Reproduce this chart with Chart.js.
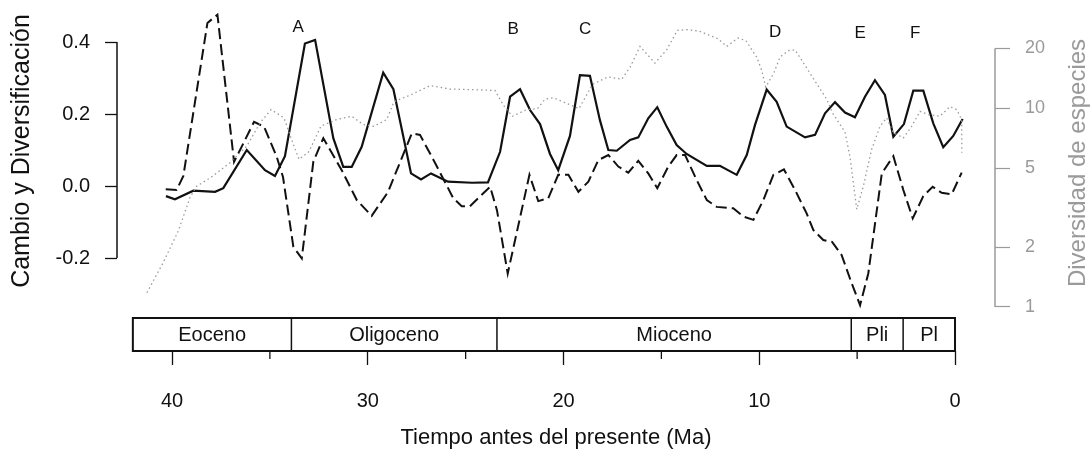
<!DOCTYPE html>
<html>
<head>
<meta charset="utf-8">
<script src="https://cdn.jsdelivr.net/npm/chart.js@4.4.1/dist/chart.umd.min.js"></script>
<style>
  html, body { margin: 0; padding: 0; background: #fff; }
  #wrap { width: 1090px; height: 456px; }
</style>
</head>
<body>
<div id="wrap"><canvas id="chart" width="1090" height="456"></canvas></div>
<script>
// tiempo (Ma) y valores de cada serie
const solidT = [40.31, 39.85, 38.91, 37.80, 37.38, 36.18, 35.25, 34.74, 34.23, 33.21, 32.69, 31.76, 31.25, 30.82, 30.31, 29.21, 28.69, 27.79, 27.28, 26.77, 25.90, 24.67, 23.86, 23.24, 22.73, 22.22, 21.71, 21.20, 20.69, 20.27, 19.67, 19.16, 18.65, 18.14, 17.71, 17.28, 16.60, 16.18, 15.67, 15.21, 14.73, 14.22, 13.71, 12.68, 12.01, 11.15, 10.64, 10.22, 9.62, 9.11, 8.60, 7.66, 7.15, 6.64, 6.13, 5.62, 5.11, 4.60, 4.09, 3.58, 3.15, 2.61, 2.13, 1.62, 1.11, 0.60, 0.09, -0.39];
const solidV = [-0.028, -0.037, -0.013, -0.016, -0.006, 0.100, 0.044, 0.028, 0.083, 0.396, 0.406, 0.133, 0.053, 0.053, 0.109, 0.315, 0.269, 0.035, 0.018, 0.035, 0.012, 0.009, 0.010, 0.095, 0.248, 0.269, 0.211, 0.172, 0.089, 0.044, 0.139, 0.308, 0.306, 0.183, 0.100, 0.098, 0.128, 0.135, 0.188, 0.219, 0.165, 0.114, 0.089, 0.056, 0.056, 0.031, 0.086, 0.169, 0.268, 0.234, 0.165, 0.135, 0.142, 0.202, 0.233, 0.204, 0.191, 0.248, 0.294, 0.253, 0.137, 0.172, 0.265, 0.265, 0.174, 0.108, 0.139, 0.186];

const dashT = [40.32, 39.76, 39.42, 38.19, 37.68, 36.83, 35.81, 35.30, 34.65, 34.33, 33.80, 33.37, 32.78, 32.27, 31.33, 30.56, 29.80, 28.97, 27.75, 27.33, 26.56, 25.63, 25.20, 24.78, 23.75, 23.40, 22.85, 21.74, 21.29, 20.78, 20.27, 19.75, 19.24, 18.73, 18.22, 17.71, 17.20, 16.69, 16.18, 15.67, 15.21, 14.65, 14.22, 13.79, 13.20, 12.68, 12.17, 11.33, 10.81, 10.30, 9.79, 9.28, 8.74, 8.17, 7.58, 7.24, 6.73, 6.28, 5.79, 5.28, 4.85, 4.43, 3.74, 3.15, 2.64, 2.16, 1.62, 1.14, 0.68, 0.17, -0.34];
const dashV = [-0.009, -0.011, 0.028, 0.453, 0.476, 0.067, 0.178, 0.165, 0.081, 0.025, -0.169, -0.201, 0.068, 0.133, 0.044, -0.039, -0.083, -0.017, 0.146, 0.142, 0.064, -0.034, -0.056, -0.056, -0.002, -0.067, -0.243, 0.031, -0.042, -0.034, 0.031, 0.031, -0.016, 0.012, 0.072, 0.086, 0.054, 0.037, 0.070, 0.035, -0.006, 0.054, 0.086, 0.086, 0.017, -0.039, -0.058, -0.062, -0.085, -0.094, -0.039, 0.031, 0.046, -0.011, -0.076, -0.122, -0.150, -0.155, -0.192, -0.270, -0.331, -0.243, 0.035, 0.083, -0.011, -0.090, -0.028, -0.002, -0.019, -0.023, 0.037];

// diversidad de especies (eje derecho, logaritmico)
const dotT = [41.28, 40.44, 39.68, 39.08, 38.74, 38.01, 37.04, 36.18, 35.50, 34.94, 34.28, 33.89, 33.51, 33.00, 32.39, 31.59, 30.82, 30.23, 29.68, 29.03, 28.66, 27.79, 26.82, 25.80, 24.52, 23.50, 23.08, 22.61, 21.88, 21.33, 20.95, 20.52, 19.84, 19.21, 18.52, 17.73, 17.03, 16.60, 16.09, 15.75, 15.33, 14.73, 14.18, 13.71, 13.08, 12.11, 11.66, 11.09, 10.68, 10.13, 9.87, 9.67, 9.25, 8.94, 8.53, 8.17, 7.15, 6.55, 6.26, 5.62, 5.36, 5.02, 4.68, 4.26, 3.83, 3.49, 3.15, 2.64, 2.21, 1.79, 1.36, 0.77, 0.26, -0.09, -0.34, -0.35];
const dotV = [1.18, 1.68, 2.41, 3.56, 4.05, 4.49, 5.32, 6.45, 8.45, 9.85, 8.95, 6.96, 5.53, 6.06, 8.14, 8.78, 9.12, 8.28, 8.12, 8.78, 10.8, 11.7, 13.0, 12.5, 12.4, 12.3, 10.4, 9.12, 9.85, 9.96, 11.1, 11.3, 10.6, 9.96, 13.2, 14.4, 14.0, 16.1, 20.5, 18.8, 16.9, 19.7, 24.7, 24.9, 24.5, 22.4, 20.5, 22.6, 21.9, 18.1, 15.5, 12.8, 15.1, 18.1, 19.5, 19.7, 13.7, 11.1, 9.48, 7.59, 5.66, 3.10, 4.06, 6.21, 8.12, 8.95, 7.53, 7.10, 8.12, 9.66, 9.30, 9.12, 10.2, 9.85, 8.78, 5.97];

const epochNames = ['Eoceno', 'Oligoceno', 'Mioceno', 'Pli', 'Pl'];
const epochBounds = [42, 33.9, 23.4, 5.3, 2.65, 0];

const eventLabels = ['A', 'B', 'C', 'D', 'E', 'F'];
const eventT = [33.55, 22.57, 18.9, 9.19, 4.85, 2.04];
const eventY = [0.442, 0.435, 0.435, 0.428, 0.424, 0.424];

const leftTicks = [-0.2, 0, 0.2, 0.4];
const rightTicks = [1, 2, 5, 10, 20];
const majorTicks = [0, 10, 20, 30, 40];
const minorTicks = [5, 15, 25, 35];

const FONT = '"Liberation Sans", Arial, Helvetica, sans-serif';
const GRAY = '#9a9a9a';

function pts(t, v) {
    return t.map((x, i) => ({x: x, y: v[i]}));
}

const extras = {
    id: 'extras',
    afterDraw(chart) {
        const {ctx, chartArea: a, scales: {x, y, y2}} = chart;
        ctx.save();

        // eje izquierdo (solo entre primer y ultimo tick)
        ctx.strokeStyle = '#111';
        ctx.lineWidth = 1.5;
        ctx.beginPath();
        ctx.moveTo(a.left, y.getPixelForValue(leftTicks[leftTicks.length - 1]));
        ctx.lineTo(a.left, y.getPixelForValue(leftTicks[0]));
        ctx.stroke();

        // eje derecho gris
        ctx.strokeStyle = GRAY;
        ctx.beginPath();
        ctx.moveTo(a.right, y2.getPixelForValue(rightTicks[rightTicks.length - 1]));
        ctx.lineTo(a.right, y2.getPixelForValue(rightTicks[0]));
        ctx.stroke();

        // escala de tiempo geologico
        const top = a.bottom - 33;
        const bottom = a.bottom;
        ctx.strokeStyle = '#111';
        ctx.lineWidth = 2;
        const x0 = x.getPixelForValue(epochBounds[0]);
        const x1 = x.getPixelForValue(epochBounds[epochBounds.length - 1]);
        ctx.strokeRect(x0, top, x1 - x0, bottom - top);
        ctx.lineWidth = 1.5;
        for (let i = 1; i < epochBounds.length - 1; i++) {
            const px = x.getPixelForValue(epochBounds[i]);
            ctx.beginPath();
            ctx.moveTo(px, top);
            ctx.lineTo(px, bottom);
            ctx.stroke();
        }
        ctx.fillStyle = '#111';
        ctx.font = '20px ' + FONT;
        ctx.textAlign = 'center';
        ctx.textBaseline = 'middle';
        for (let i = 0; i < epochNames.length; i++) {
            const cx = (x.getPixelForValue(epochBounds[i]) + x.getPixelForValue(epochBounds[i + 1])) / 2;
            ctx.fillText(epochNames[i], cx, (top + bottom) / 2 + 1);
        }

        // ticks menores
        ctx.lineWidth = 1.3;
        minorTicks.forEach(t => {
            const px = x.getPixelForValue(t);
            ctx.beginPath();
            ctx.moveTo(px, bottom);
            ctx.lineTo(px, bottom + 8);
            ctx.stroke();
        });

        // letras de eventos
        ctx.font = '17px ' + FONT;
        for (let i = 0; i < eventLabels.length; i++) {
            ctx.fillText(eventLabels[i], x.getPixelForValue(eventT[i]), y.getPixelForValue(eventY[i]));
        }

        // titulos de los ejes verticales
        ctx.save();
        ctx.translate(22, 151);
        ctx.rotate(-Math.PI / 2);
        ctx.font = '25px ' + FONT;
        ctx.fillText('Cambio y Diversificación', 0, 0);
        ctx.restore();

        ctx.save();
        ctx.translate(1078, 163);
        ctx.rotate(-Math.PI / 2);
        ctx.fillStyle = GRAY;
        ctx.font = '24px ' + FONT;
        ctx.fillText('Diversidad de especies', 0, 0);
        ctx.restore();

        ctx.restore();
    }
};

new Chart(document.getElementById('chart'), {
    type: 'line',
    data: {
        datasets: [{
            data: pts(dotT, dotV),
            yAxisID: 'y2',
            borderColor: GRAY,
            borderWidth: 1.3,
            borderDash: [1.5, 3],
            pointRadius: 0,
            tension: 0
        }, {
            data: pts(dashT, dashV),
            yAxisID: 'y',
            borderColor: '#111',
            borderWidth: 2,
            borderDash: [11, 5],
            pointRadius: 0,
            tension: 0
        }, {
            data: pts(solidT, solidV),
            yAxisID: 'y',
            borderColor: '#111',
            borderWidth: 2.2,
            pointRadius: 0,
            tension: 0
        }]
    },
    options: {
        responsive: false,
        animation: false,
        layout: { padding: 0 },
        plugins: {
            legend: { display: false },
            tooltip: { enabled: false }
        },
        scales: {
            x: {
                type: 'linear',
                reverse: true,
                min: -2.043,
                max: 42.81,
                afterBuildTicks: s => { s.ticks = majorTicks.map(v => ({value: v})); },
                afterFit: s => { s.height = 105; s.paddingLeft = 0; s.paddingRight = 0; },
                border: { display: false },
                grid: { drawOnChartArea: false, tickLength: 14, tickColor: '#111', tickWidth: 1.3 },
                ticks: {
                    autoSkip: false, maxRotation: 0, padding: 24, color: '#111',
                    font: { family: FONT, size: 20 },
                    callback: v => String(v)
                },
                title: {
                    display: true,
                    text: 'Tiempo antes del presente (Ma)',
                    color: '#111',
                    font: { family: FONT, size: 22 },
                    padding: { top: 0, bottom: 5 }
                }
            },
            y: {
                type: 'linear',
                position: 'left',
                min: -0.4583,
                max: 0.5167,
                afterBuildTicks: s => { s.ticks = leftTicks.map(v => ({value: v})); },
                afterFit: s => { s.width = 117; s.paddingTop = 0; s.paddingBottom = 0; },
                border: { display: false },
                grid: { drawOnChartArea: false, tickLength: 12, tickColor: '#111', tickWidth: 1.3 },
                ticks: {
                    padding: 15, color: '#111',
                    font: { family: FONT, size: 20 },
                    callback: v => v.toFixed(1)
                }
            },
            y2: {
                type: 'logarithmic',
                position: 'right',
                min: 0.608,
                max: 35.1,
                afterBuildTicks: s => { s.ticks = rightTicks.map(v => ({value: v})); },
                afterFit: s => { s.width = 95; s.paddingTop = 0; s.paddingBottom = 0; },
                border: { display: false },
                grid: { drawOnChartArea: false, tickLength: 15, tickColor: GRAY, tickWidth: 1.2 },
                ticks: {
                    padding: 15, color: GRAY,
                    font: { family: FONT, size: 18 },
                    callback: v => String(v)
                }
            }
        }
    },
    plugins: [extras]
});
</script>
</body>
</html>
